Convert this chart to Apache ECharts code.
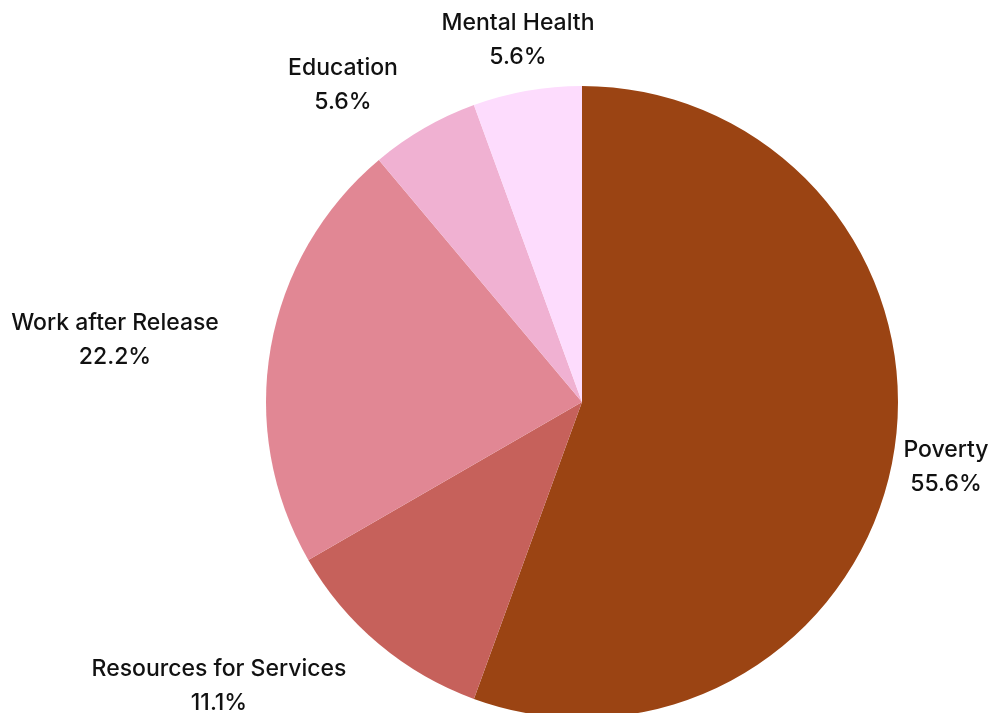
<!DOCTYPE html>
<html>
<head>
<meta charset="utf-8">
<script src="https://cdn.jsdelivr.net/npm/echarts@6/dist/echarts.min.js"></script>
<style>html,body{margin:0;padding:0;background:#fff;}#c{width:1005px;height:713px;}</style>
</head>
<body>
<div id="c"></div>
<script>
const categories = ['Poverty', 'Resources for Services', 'Work after Release', 'Education', 'Mental Health'];
const values = [10, 2, 4, 1, 1];
const colors = ['#9B4413', '#C6615B', '#E18794', '#F0B1D2', '#FDDCFD'];

const total = values.reduce((a, b) => a + b, 0);
// label block centres (layout only)
const labelCentres = [[946, 467], [219, 686], [115, 340], [343, 85], [518, 40]];

const chart = echarts.init(document.getElementById('c'));
chart.setOption({
  animation: false,
  series: [{
    type: 'pie',
    center: [582, 402],
    radius: 316,
    startAngle: 90,
    clockwise: true,
    data: categories.map((n, i) => ({ name: n, value: values[i], itemStyle: { color: colors[i] } })),
    label: {
      show: true,
      position: 'outside',
      formatter: p => p.name + '\n' + (p.value / total * 100).toFixed(1) + '%',
      color: '#111111',
      fontFamily: 'Inter, Roboto, sans-serif',
      fontWeight: 500,
      fontSize: 23,
      lineHeight: 34,
      align: 'center'
    },
    labelLine: { show: false, length: 10, length2: 0 },
    labelLayout: p => ({
      x: labelCentres[p.dataIndex][0],
      y: labelCentres[p.dataIndex][1],
      align: 'center',
      verticalAlign: 'middle'
    })
  }]
});
</script>
</body>
</html>
